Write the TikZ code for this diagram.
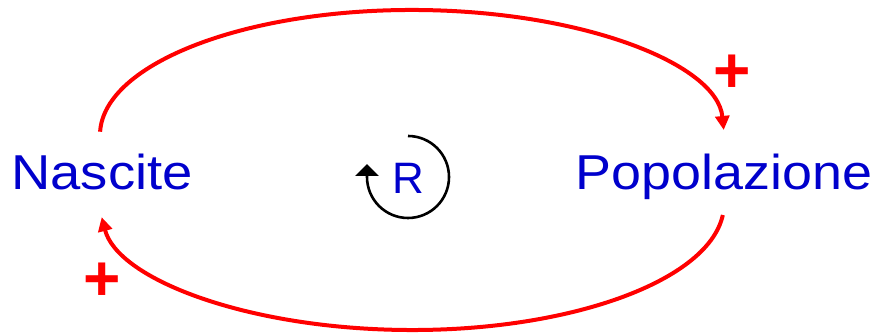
\documentclass[tikz,border=0pt]{standalone}
\usepackage{fontspec}
\setmainfont{Liberation Sans}
\usepackage{graphicx}
\usetikzlibrary{arrows.meta}
\definecolor{txtblue}{RGB}{0,0,204}
\begin{document}
\begin{tikzpicture}[x=1pt,y=1pt,
  lbl/.style={text=txtblue, font=\fontsize{49}{49}\selectfont, inner sep=0pt, anchor=base},
  link/.style={draw=red, line width=4pt, -{Triangle[length=14pt,width=14pt]}},
  sign/.style={text=red, font=\fontsize{64}{64}\selectfont\bfseries, inner sep=0pt},
  loopline/.style={draw=black, line width=2.6pt, -{Triangle[length=12pt,width=23pt]}}]
\useasboundingbox (0,0) rectangle (874,334);
\node[lbl] (N) at (102,144.5) {\scalebox{1.11}[1]{Nascite}};
\node[lbl] (P) at (724,144.5) {\scalebox{1.1}[1]{Popolazione}};
\node[lbl, font=\fontsize{44}{44}\selectfont] (R) at (408,140) {R};
\node[sign] (s1) at (732,260) {+};
\node[sign] (s2) at (102,52) {+};
\coordinate (t0) at (100.1,202.3);
\coordinate (b0) at (722.8,119);
\coordinate (r0) at (408,198);
\draw[link] (t0) arc[start angle=178.5, end angle=2.3, x radius=312, y radius=125];
\draw[link] (b0) arc[start angle=-5, end angle=-174, x radius=312, y radius=126];
\draw[loopline] (r0) arc[start angle=90, end angle=-180, radius=41] -- ++(0,13);
\end{tikzpicture}
\end{document}
